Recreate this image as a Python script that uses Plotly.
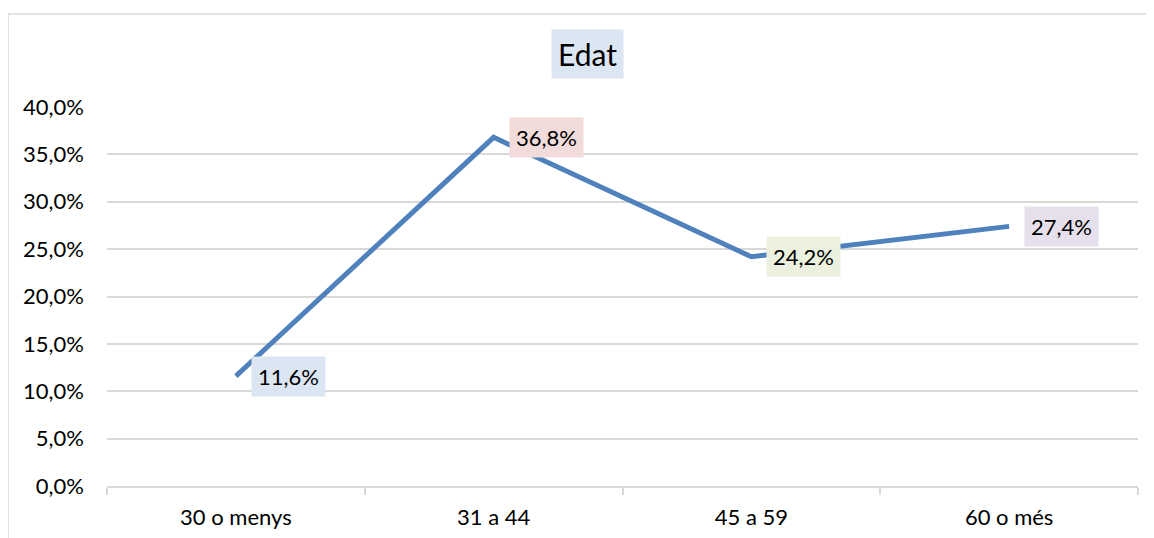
import plotly.graph_objects as go

categories = ["30 o menys", "31 a 44", "45 a 59", "60 o més"]
values = [0.116, 0.368, 0.242, 0.274]
label_texts = ["11,6%", "36,8%", "24,2%", "27,4%"]
label_colors = ["#DCE6F2", "#F2DCDB", "#EBF1DE", "#E6E0EC"]
y_ticks = [0, 0.05, 0.10, 0.15, 0.20, 0.25, 0.30, 0.35, 0.40]
y_tick_labels = ["0,0%", "5,0%", "10,0%", "15,0%", "20,0%", "25,0%", "30,0%", "35,0%", "40,0%"]
title_text = "Edat"

FONT = "Lato, 'Open Sans', sans-serif"

fig = go.Figure()
fig.add_trace(go.Scatter(
    x=categories, y=values, mode="lines",
    line=dict(color="#4F81BD", width=5),
    hoverinfo="skip", showlegend=False,
))

annotations = []
for c, v, t, col in zip(categories, values, label_texts, label_colors):
    annotations.append(dict(
        x=c, y=v, xref="x", yref="y", text=t, showarrow=False,
        xanchor="left", yanchor="middle", xshift=15,
        bgcolor=col, borderpad=6,
        font=dict(family=FONT, size=22, color="#000000"),
    ))
annotations.append(dict(
    x=0.4665, y=1.14, xref="paper", yref="paper", text=title_text,
    showarrow=False, xanchor="center", yanchor="middle",
    bgcolor="#DCE6F2", borderpad=6,
    font=dict(family=FONT, size=30, color="#000000"),
))

fig.update_layout(
    width=1154, height=538,
    margin=dict(l=99, r=24, t=99, b=60),
    paper_bgcolor="white", plot_bgcolor="white",
    annotations=annotations,
    shapes=[
        dict(type="line", xref="paper", yref="paper", x0=-0.096, x1=-0.096, y0=1.2454, y1=-0.2,
             line=dict(color="#D9D9D9", width=1.5)),
        dict(type="line", xref="paper", yref="paper", x0=-0.096, x1=1.05, y0=1.2454, y1=1.2454,
             line=dict(color="#D9D9D9", width=1.5)),
    ],
)
fig.update_xaxes(
    type="category", range=[-0.5, 3.5],
    showgrid=False, showline=True, linecolor="#D9D9D9", linewidth=1.5,
    ticks="outside", tickson="boundaries", ticklen=7, tickcolor="#D9D9D9", tickwidth=1.5,
    tickfont=dict(family=FONT, size=22, color="#000000"),
    ticklabelstandoff=11,
)
fig.update_yaxes(
    range=[0, 0.4], tickvals=y_ticks, ticktext=y_tick_labels,
    showgrid=True, gridcolor="#D9D9D9", gridwidth=1.5,
    zeroline=False, showline=False, ticks="",
    tickfont=dict(family=FONT, size=22, color="#000000"),
    ticklabelstandoff=22,
)

fig.write_html("out.html")
